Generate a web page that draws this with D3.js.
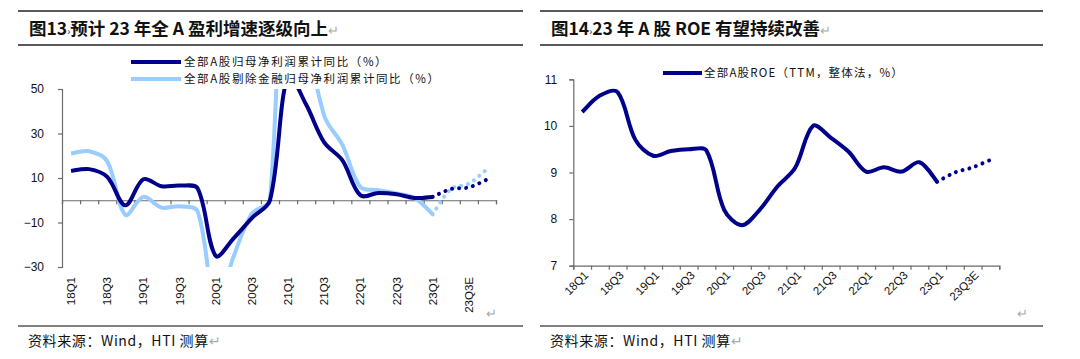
<!DOCTYPE html>
<html><head><meta charset="utf-8">
<script src="https://cdn.jsdelivr.net/npm/d3@7"></script>
<style>
body{margin:0;background:#fff;}
svg{display:block;}
</style>
</head><body>
<svg id="c" width="1080" height="359"></svg>
<script>
// ---------- data ----------
const quarters = ["18Q1","18Q2","18Q3","18Q4","19Q1","19Q2","19Q3","19Q4",
  "20Q1","20Q2","20Q3","20Q4","21Q1","21Q2","21Q3","21Q4",
  "22Q1","22Q2","22Q3","22Q4","23Q1","23Q2E","23Q3E","23Q4E"];
const tickLabels = ["18Q1","18Q3","19Q1","19Q3","20Q1","20Q3","21Q1","21Q3","22Q1","22Q3","23Q1","23Q3E"];
const actualQuarters = quarters.slice(0, 21);          // 18Q1 .. 23Q1
const forecastQuarters = ["23Q1","23Q2E","23Q3E","23Q4E"];

// 全部A股归母净利润累计同比（%）
const allAProfit = [13.2, 14.0, 10.5, -2.3, 9.4, 6.3, 6.6, 5.3,
  -25, -17, -8, 0, 56, 43, 26, 18, 2.2, 3.3, 2.7, 1.0, 1.5];
const allAProfitForecast = [1.5, 5.0, 5.8, 9.3];
// 全部A股剔除金融归母净利润累计同比（%）
const exFinProfit = [21, 22, 17.5, -6.5, 1.5, -3.3, -2.7, -5,
  -48, -25, -6, 0, 180, 80, 38, 25, 6, 4.5, 3, 1, -6.3];
const exFinProfitForecast = [-6.3, 5.0, 7.5, 14];
const profitTicks = [50, 30, 10, -10, -30];

// 全部A股ROE（TTM，整体法，%）
const roe = [10.3, 10.65, 10.72, 9.7, 9.36, 9.46, 9.5, 9.47,
  8.2, 7.87, 8.2, 8.7, 9.1, 10.0, 9.75, 9.45, 9.02, 9.11, 9.02, 9.22, 8.8];
const roeForecast = [8.8, 9.0, 9.11, 9.27];
const roeTicks = [11, 10, 9, 8, 7];

// ---------- styles ----------
const DARK = "#00008B", LIGHT = "#99CCFF", AXIS = "#6b6b6b";
const NUM_FONT = "'Liberation Sans', Arial, sans-serif";
const CJK_FONT = "'Noto Sans CJK SC', 'Liberation Sans', sans-serif";

// spreadsheet-style smoothing: Catmull-Rom tangents, handle lengths split by chord lengths
function SmoothCurve(context){ this._context = context; }
SmoothCurve.prototype = {
  areaStart(){ this._line = 0; },
  areaEnd(){ this._line = NaN; },
  lineStart(){ this._x = []; this._y = []; },
  point(x, y){ this._x.push(+x); this._y.push(+y); },
  lineEnd(){
    const X = this._x, Y = this._y, n = X.length, c = this._context;
    if (!n) return;
    c.moveTo(X[0], Y[0]);
    if (n === 1) return;
    if (n === 2) { c.lineTo(X[1], Y[1]); return; }
    const d = i => Math.hypot(X[i+1]-X[i], Y[i+1]-Y[i]) || 1e-6;
    const inH = [], outH = [];
    for (let i = 0; i < n; i++) {
      if (i === 0) { outH[i] = [(X[1]-X[0])/6, (Y[1]-Y[0])/6]; inH[i] = [0,0]; continue; }
      if (i === n-1) { inH[i] = [(X[i]-X[i-1])/6, (Y[i]-Y[i-1])/6]; outH[i] = [0,0]; continue; }
      const tx = X[i+1]-X[i-1], ty = Y[i+1]-Y[i-1];
      const dp = d(i-1), dn = d(i), s = dp + dn;
      inH[i]  = [tx*dp/s/3, ty*dp/s/3];
      outH[i] = [tx*dn/s/3, ty*dn/s/3];
    }
    for (let i = 0; i < n-1; i++) {
      c.bezierCurveTo(X[i]+outH[i][0], Y[i]+outH[i][1],
                      X[i+1]-inH[i+1][0], Y[i+1]-inH[i+1][1], X[i+1], Y[i+1]);
    }
  }
};
const curve = ctx => new SmoothCurve(ctx);

const svg = d3.select("#c");
svg.append("rect").attr("width",1080).attr("height",359).attr("fill","#fff");

// ---------- frame (titles, rules, source) ----------
function frame(x0, x1, title, srcX, titleX, retX) {
  svg.append("line").attr("x1",x0).attr("x2",x1).attr("y1",11).attr("y2",11)
    .attr("stroke","#222").attr("stroke-width",1.3);
  svg.append("line").attr("x1",x0).attr("x2",x1).attr("y1",45).attr("y2",45)
    .attr("stroke","#222").attr("stroke-width",1.3);
  svg.append("line").attr("x1",x0).attr("x2",x1).attr("y1",326).attr("y2",326)
    .attr("stroke","#555").attr("stroke-width",1.3);
  const t = svg.append("text").attr("x",titleX).attr("y",35)
    .attr("font-family",CJK_FONT).attr("font-size",17.5).attr("font-weight","bold").attr("fill","#111");
  title.forEach(p => {
    const ts = t.append("tspan").text(p.t);
    if (p.small) ts.attr("font-size",10).attr("font-weight","normal");
    if (p.gray) ts.attr("fill","#aaa").attr("font-weight","normal").attr("font-size",13);
  });
  const s = svg.append("text").attr("x",srcX).attr("y",346)
    .attr("font-family",CJK_FONT).attr("font-size",14).attr("letter-spacing",0.6).attr("fill","#111");
  s.append("tspan").text("资料来源：Wind，HTI 测算");
  s.append("tspan").text("↵").attr("fill","#aaa");
  svg.append("text").attr("x",retX).attr("y",318).text("↵")
    .attr("font-family",CJK_FONT).attr("font-size",13).attr("fill","#aaa");
}
frame(18, 523, [{t:"图13"},{t:"›",small:true},{t:"预计 23 年全 A 盈利增速逐级向上"},{t:"↵",gray:true}], 28, 29, 486);
frame(540, 1043, [{t:"图14"},{t:"›",small:true},{t:"23 年 A 股 ROE 有望持续改善"},{t:"↵",gray:true}], 550, 551, 1017);

// ---------- left chart ----------
(function(){
  const L = {x0:62, x1:496, yTop:89, yBot:267};
  const x = d3.scaleBand().domain(quarters).range([L.x0, L.x1]).padding(0);
  const xb = d3.scaleLinear().domain([0, quarters.length]).range([L.x0, L.x1]);
  const y = d3.scaleLinear().domain([-30, 50]).range([L.yBot, L.yTop]);
  const cx = q => x(q) + x.bandwidth()/2;
  const g = svg.append("g");

  const ya = g.append("g").attr("transform",`translate(${L.x0},0)`)
    .call(d3.axisLeft(y).tickValues(profitTicks).tickSize(4).tickPadding(14).tickFormat(d3.format("d")));
  ya.selectAll("path,line").attr("stroke",AXIS).attr("stroke-width",1.2);
  ya.selectAll("text").attr("font-family",NUM_FONT).attr("font-size",12).attr("fill","#111");

  const xa = g.append("g").attr("transform",`translate(0,${y(0)})`)
    .call(d3.axisBottom(xb).tickValues(d3.range(quarters.length+1)).tickSize(4).tickFormat(""));
  xa.selectAll("path,line").attr("stroke",AXIS).attr("stroke-width",1.2);

  const xl = g.append("g").attr("transform",`translate(0,277)`)
    .call(d3.axisBottom(x).tickValues(tickLabels).tickSize(0).tickPadding(0));
  xl.select(".domain").remove();
  xl.selectAll("text").attr("font-family",NUM_FONT).attr("font-size",11.5).attr("fill","#111")
    .attr("transform","rotate(-90)").attr("text-anchor","end").attr("x",0).attr("y",0).attr("dy","0.35em");

  svg.append("clipPath").attr("id","clipL").append("rect")
    .attr("x",L.x0).attr("y",L.yTop).attr("width",L.x1-L.x0).attr("height",L.yBot-L.yTop);
  const line = d3.line().x(d => cx(d[0])).y(d => y(d[1])).curve(curve);
  const pg = g.append("g").attr("clip-path","url(#clipL)");
  pg.append("path").datum(d3.zip(actualQuarters, exFinProfit)).attr("d",line)
    .attr("fill","none").attr("stroke",LIGHT).attr("stroke-width",4);
  pg.append("path").datum(d3.zip(actualQuarters, allAProfit)).attr("d",line)
    .attr("fill","none").attr("stroke",DARK).attr("stroke-width",4);
  pg.append("path").datum(d3.zip(forecastQuarters, exFinProfitForecast)).attr("d",line)
    .attr("fill","none").attr("stroke",LIGHT).attr("stroke-width",4)
    .attr("stroke-linecap","round").attr("stroke-dasharray","0.01 7");
  pg.append("path").datum(d3.zip(forecastQuarters, allAProfitForecast)).attr("d",line)
    .attr("fill","none").attr("stroke",DARK).attr("stroke-width",4)
    .attr("stroke-linecap","round").attr("stroke-dasharray","0.01 7");

  const leg = [["全部A股归母净利润累计同比（%）", DARK, 62],["全部A股剔除金融归母净利润累计同比（%）", LIGHT, 79]];
  leg.forEach(([t,c,yy]) => {
    g.append("line").attr("x1",131).attr("x2",181).attr("y1",yy).attr("y2",yy)
      .attr("stroke",c).attr("stroke-width",4);
    g.append("text").attr("x",184).attr("y",yy).attr("dy","0.36em").text(t)
      .attr("font-family",CJK_FONT).attr("font-size",11.5).attr("letter-spacing",1.6).attr("fill","#111");
  });
})();

// ---------- right chart ----------
(function(){
  const R = {x0:573.3, x1:999.3, yTop:79.3, yBot:265.7};
  const x = d3.scaleBand().domain(quarters).range([R.x0, R.x1]).padding(0);
  const xb = d3.scaleLinear().domain([0, quarters.length]).range([R.x0, R.x1]);
  const y = d3.scaleLinear().domain([7, 11]).range([R.yBot, R.yTop]);
  const cx = q => x(q) + x.bandwidth()/2;
  const g = svg.append("g");

  const ya = g.append("g").attr("transform",`translate(${R.x0},0)`)
    .call(d3.axisLeft(y).tickValues(roeTicks).tickSize(4).tickPadding(12).tickFormat(d3.format("d")));
  ya.selectAll("path,line").attr("stroke",AXIS).attr("stroke-width",1.2);
  ya.selectAll("text").attr("font-family",NUM_FONT).attr("font-size",12).attr("fill","#111");

  const xa = g.append("g").attr("transform",`translate(0,${R.yBot})`)
    .call(d3.axisBottom(xb).tickValues(d3.range(quarters.length+1)).tickSize(4).tickFormat(""));
  xa.selectAll("path,line").attr("stroke",AXIS).attr("stroke-width",1.2);

  const xl = g.append("g").attr("transform",`translate(4,273)`)
    .call(d3.axisBottom(x).tickValues(tickLabels).tickSize(0).tickPadding(0));
  xl.select(".domain").remove();
  xl.selectAll("text").attr("font-family",NUM_FONT).attr("font-size",11.5).attr("fill","#111")
    .attr("transform","rotate(-45)").attr("text-anchor","end").attr("x",0).attr("y",0).attr("dy","0.35em");

  const line = d3.line().x(d => cx(d[0])).y(d => y(d[1])).curve(curve);
  g.append("path").datum(d3.zip(actualQuarters, roe)).attr("d",line)
    .attr("fill","none").attr("stroke",DARK).attr("stroke-width",4);
  g.append("path").datum(d3.zip(forecastQuarters, roeForecast)).attr("d",line)
    .attr("fill","none").attr("stroke",DARK).attr("stroke-width",4)
    .attr("stroke-linecap","round").attr("stroke-dasharray","0.01 7");

  g.append("line").attr("x1",663).attr("x2",702).attr("y1",73).attr("y2",73)
    .attr("stroke",DARK).attr("stroke-width",4);
  g.append("text").attr("x",704).attr("y",73).attr("dy","0.36em").text("全部A股ROE（TTM，整体法，%）")
    .attr("font-family",CJK_FONT).attr("font-size",11.5).attr("letter-spacing",1.2).attr("fill","#111");
})();
</script>
</body></html>
